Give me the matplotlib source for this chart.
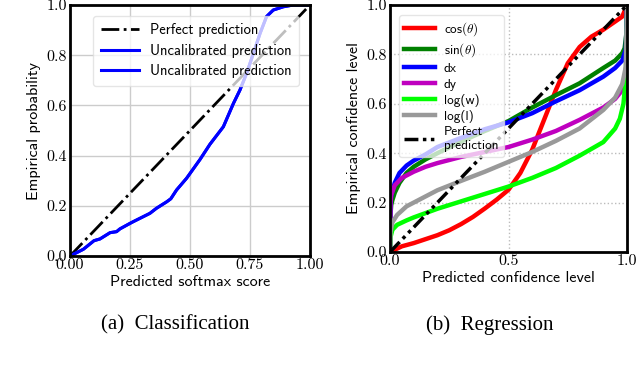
import matplotlib
matplotlib.use("Agg")
import matplotlib.pyplot as plt
from matplotlib.ticker import FixedLocator, FixedFormatter

plt.rcParams['mathtext.fontset'] = 'cm'
plt.rcParams['axes.unicode_minus'] = False

# ---------------- data: (a) classification ----------------
cls_x = [0.0, 0.056, 0.10, 0.125, 0.167, 0.194, 0.208, 0.25, 0.264, 0.333, 0.36, 0.403,
         0.42, 0.444, 0.486, 0.542, 0.583, 0.639, 0.681, 0.708, 0.736, 0.764, 0.792,
         0.819, 0.847, 0.889, 0.93, 1.0]
cls_y = [0.0, 0.027, 0.061, 0.068, 0.093, 0.097, 0.108, 0.13, 0.137, 0.17, 0.19, 0.216,
         0.228, 0.263, 0.31, 0.385, 0.445, 0.515, 0.608, 0.661, 0.728, 0.807, 0.887,
         0.954, 0.980, 0.993, 1.0, 1.0]
cls_ticks_x = [0.0, 0.25, 0.5, 0.75, 1.0]
cls_ticklabels_x = ['0.00', '0.25', '0.50', '0.75', '1.00']
cls_ticks_y = [0.0, 0.2, 0.4, 0.6, 0.8, 1.0]
cls_ticklabels_y = ['0.0', '0.2', '0.4', '0.6', '0.8', '1.0']

# ---------------- data: (b) regression ----------------
reg_labels = [r'cos$(\theta)$', r'sin$(\theta)$', 'dx', 'dy', 'log(w)', 'log(l)']
reg_colors = ['red', 'green', 'blue', 'm', 'lime', '#999999']

cos_x = [0.0, 0.05, 0.1, 0.15, 0.2, 0.25, 0.3, 0.35, 0.4, 0.45, 0.5, 0.55, 0.6, 0.65,
         0.7, 0.75, 0.8, 0.85, 0.9, 0.95, 0.98, 1.0]
cos_y = [0.0, 0.023, 0.036, 0.052, 0.068, 0.088, 0.113, 0.142, 0.176, 0.212, 0.252,
         0.32, 0.414, 0.535, 0.656, 0.764, 0.83, 0.872, 0.9, 0.933, 0.953, 1.0]

sin_x = [0.0, 0.002, 0.005, 0.01, 0.02, 0.04, 0.07, 0.1, 0.15, 0.2, 0.3, 0.4, 0.5, 0.6,
         0.7, 0.8, 0.9, 0.95, 0.98, 0.99, 0.997, 1.0]
sin_y = [0.0, 0.15, 0.19, 0.21, 0.24, 0.28, 0.32, 0.345, 0.375, 0.40, 0.447, 0.49, 0.53,
         0.585, 0.635, 0.683, 0.745, 0.775, 0.805, 0.825, 0.88, 1.0]

dx_x = [0.0, 0.002, 0.005, 0.02, 0.04, 0.07, 0.1, 0.15, 0.2, 0.3, 0.4, 0.5, 0.6, 0.7,
        0.8, 0.9, 0.95, 0.98, 0.995, 1.0]
dx_y = [0.0, 0.2, 0.23, 0.28, 0.32, 0.35, 0.37, 0.395, 0.425, 0.462, 0.497, 0.525, 0.562,
        0.61, 0.655, 0.71, 0.745, 0.775, 0.82, 1.0]

dy_x = [0.0, 0.002, 0.005, 0.02, 0.05, 0.1, 0.15, 0.2, 0.3, 0.4, 0.5, 0.6, 0.7, 0.8,
        0.9, 0.95, 0.98, 0.995, 1.0]
dy_y = [0.0, 0.2, 0.23, 0.27, 0.30, 0.325, 0.345, 0.36, 0.385, 0.405, 0.425, 0.455, 0.49,
        0.535, 0.585, 0.62, 0.655, 0.70, 0.90]

logw_x = [0.0, 0.002, 0.01, 0.03, 0.07, 0.1, 0.2, 0.3, 0.4, 0.5, 0.6, 0.7, 0.8, 0.9,
          0.95, 0.97, 0.985, 0.995, 1.0]
logw_y = [0.0, 0.06, 0.09, 0.11, 0.128, 0.14, 0.175, 0.205, 0.235, 0.265, 0.30, 0.34,
          0.39, 0.445, 0.50, 0.54, 0.60, 0.70, 0.95]

logl_x = [0.0, 0.002, 0.01, 0.03, 0.07, 0.1, 0.2, 0.3, 0.4, 0.5, 0.6, 0.7, 0.8, 0.9,
          0.95, 0.98, 0.995, 1.0]
logl_y = [0.0, 0.08, 0.12, 0.15, 0.185, 0.20, 0.25, 0.288, 0.325, 0.365, 0.405, 0.45,
          0.50, 0.575, 0.625, 0.68, 0.75, 1.0]

reg_x = [cos_x, sin_x, dx_x, dy_x, logw_x, logl_x]
reg_y = [cos_y, sin_y, dx_y, dy_y, logw_y, logl_y]
reg_ticks_x = [0.0, 0.5, 1.0]
reg_ticklabels_x = ['0.0', '0.5', '1.0']
reg_ticks_y = [0.0, 0.2, 0.4, 0.6, 0.8, 1.0]
reg_ticklabels_y = ['0.0', '0.2', '0.4', '0.6', '0.8', '1.0']

W, H = 638, 372
fig = plt.figure(figsize=(W / 100, H / 100), dpi=100)

def box(l, t, r, b):
    return [l / W, 1 - b / H, (r - l) / W, (b - t) / H]

sans = 'cmss10'

# ---------- (a) ----------
ax1 = fig.add_axes(box(70, 5, 310, 256))
ax1.plot([0, 1], [0, 1], color='black', linestyle='-.', lw=2.0, label='Perfect prediction')
ax1.plot(cls_x, cls_y, color='blue', lw=2.2, label='Uncalibrated prediction')
ax1.plot(cls_x, cls_y, color='blue', lw=2.2, label='Uncalibrated prediction')
ax1.set_xlim(0, 1)
ax1.set_ylim(0, 1)
ax1.xaxis.set_major_locator(FixedLocator(cls_ticks_x))
ax1.xaxis.set_major_formatter(FixedFormatter(cls_ticklabels_x))
ax1.yaxis.set_major_locator(FixedLocator(cls_ticks_y))
ax1.yaxis.set_major_formatter(FixedFormatter(cls_ticklabels_y))
ax1.grid(True, color='#cccccc', lw=1.0, linestyle='-')
ax1.set_axisbelow(True)
ax1.set_xlabel('Predicted softmax score', family=sans, fontsize=11.5, labelpad=2)
ax1.set_ylabel('Empirical probability', family=sans, fontsize=11.5, labelpad=4)
leg1 = ax1.legend(loc='upper right', prop=dict(family=sans, size=10.5), handlelength=2.6,
                  framealpha=0.75, edgecolor='#dddddd', fancybox=True, borderpad=0.5,
                  labelspacing=0.45, bbox_to_anchor=(0.985, 0.985))

# ---------- (b) ----------
ax2 = fig.add_axes(box(390, 5, 627, 252))
for xs, ys, lab, c in zip(reg_x, reg_y, reg_labels, reg_colors):
    ax2.plot(xs, ys, color=c, lw=3.2, label=lab, solid_joinstyle='round')
ax2.plot([0, 1], [0, 1], color='black', lw=2.5, linestyle=(0, (4, 1.3, 1, 1.3, 1, 1.3)),
         label='Perfect\nprediction')
ax2.set_xlim(0, 1)
ax2.set_ylim(0, 1)
ax2.xaxis.set_major_locator(FixedLocator(reg_ticks_x))
ax2.xaxis.set_major_formatter(FixedFormatter(reg_ticklabels_x))
ax2.yaxis.set_major_locator(FixedLocator(reg_ticks_y))
ax2.yaxis.set_major_formatter(FixedFormatter(reg_ticklabels_y))
ax2.grid(True, color='#bbbbbb', lw=1.0, linestyle=':')
ax2.set_axisbelow(True)
ax2.set_xlabel('Predicted confidence level', family=sans, fontsize=11.5, labelpad=2)
ax2.set_ylabel('Empirical confidence level', family=sans, fontsize=11.5, labelpad=4)
leg2 = ax2.legend(loc='upper left', prop=dict(family=sans, size=9.5), handlelength=2.3,
                  handletextpad=0.7, framealpha=0.75, edgecolor='#dddddd', fancybox=True,
                  borderpad=0.4, labelspacing=0.25, bbox_to_anchor=(0.01, 0.985))

for ax in (ax1, ax2):
    for sp in ax.spines.values():
        sp.set_linewidth(2.0)
    ax.tick_params(length=0, pad=2)
    for lbl in ax.get_xticklabels() + ax.get_yticklabels():
        lbl.set_family('cmr10')
        lbl.set_fontsize(11.5)

# ---------- captions ----------
fig.text(175 / W, 1 - 325 / H, '(a)  Classification', family='Liberation Serif',
         fontsize=15, ha='center', va='center')
fig.text(490 / W, 1 - 325 / H, '(b)  Regression', family='Liberation Serif',
         fontsize=15, ha='center', va='center')

fig.savefig('out.png', dpi=100)
